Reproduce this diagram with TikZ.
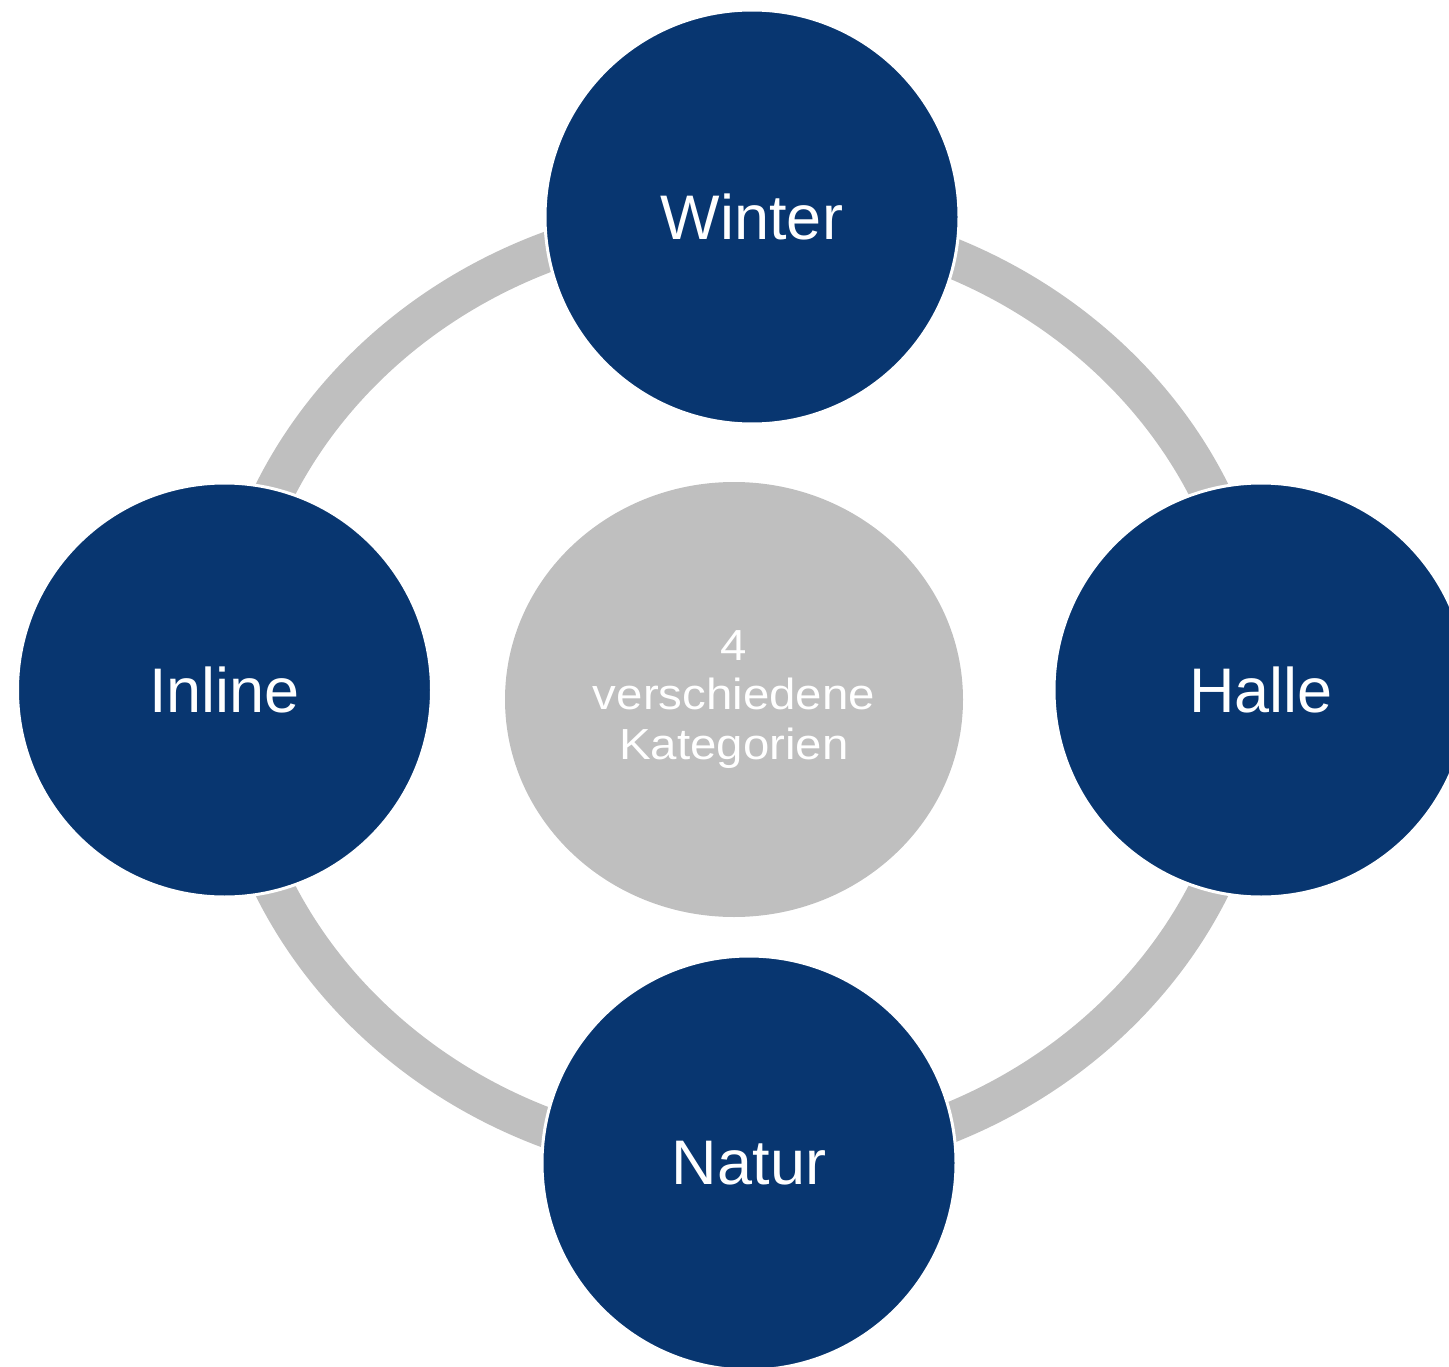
\documentclass[tikz,border=0pt]{standalone}
\usepackage{fontspec}
\setmainfont{Liberation Sans}
\newfontfamily\centerfont[FakeStretch=1.09]{Liberation Sans}
\usetikzlibrary{shapes.geometric}
\definecolor{navy}{RGB}{8,54,112}
\definecolor{ringgray}{RGB}{191,191,191}
\tikzset{
  catnode/.style={circle, fill=navy, draw=white, line width=3pt, minimum size=414pt, inner sep=0pt,
    text=white, font=\fontsize{63}{72}\selectfont},
  hubnode/.style={ellipse, fill=ringgray, draw=none, minimum width=458pt, minimum height=435pt, inner sep=0pt,
    text=white, align=center, font=\centerfont\fontsize{43.5}{49.5}\selectfont},
  ringline/.style={draw=ringgray, line width=40pt}
}
\begin{document}
\begin{tikzpicture}[x=1pt,y=-1pt]
\useasboundingbox (0,0) rectangle (1449,1367);
\coordinate (ringc) at (742,690);
\draw[ringline] (ringc) ellipse [x radius=515, y radius=473];
\node[hubnode] (hub) at (734,699.5) {4\\verschiedene\\Kategorien};
\node[catnode] (winter) at (752,217) {Winter};
\node[catnode] (inline) at (224.5,690) {Inline};
\node[catnode] (halle) at (1261,690) {Halle};
\node[catnode] (natur) at (749,1163) {Natur};
\end{tikzpicture}
\end{document}
